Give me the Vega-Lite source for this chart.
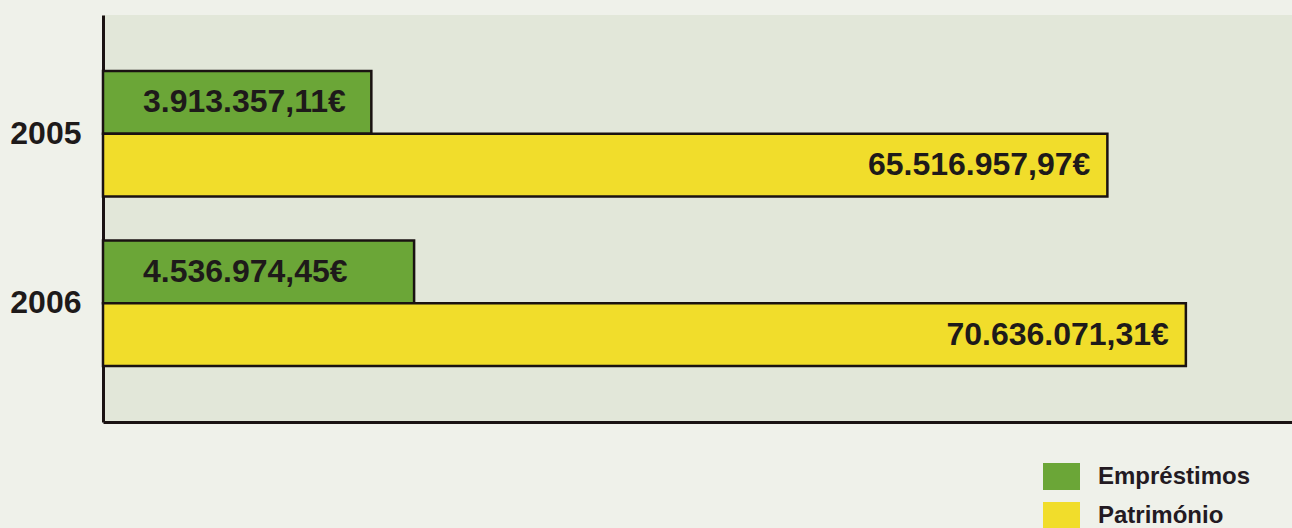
{
  "$schema": "https://vega.github.io/schema/vega-lite/v6.json",
  "width": 1189,
  "height": 407,
  "autosize": {"type": "none"},
  "padding": {"left": 103, "top": 15, "right": 0, "bottom": 106},
  "background": "#eff1ea",
  "config": {
    "locale": {"number": {"decimal": ",", "thousands": ".", "grouping": [3], "currency": ["", "€"]}},
    "view": {"fill": "#e2e7d9", "stroke": null},
    "font": "Liberation Sans"
  },
  "data": {
    "values": [
      {"ano": "2005", "serie": "Empréstimos", "valor": 3913357.11},
      {"ano": "2005", "serie": "Património", "valor": 65516957.97},
      {"ano": "2006", "serie": "Empréstimos", "valor": 4536974.45},
      {"ano": "2006", "serie": "Património", "valor": 70636071.31}
    ]
  },
  "encoding": {
    "y": {
      "field": "ano", "type": "nominal", "title": null,
      "scale": {"paddingInner": 0.26, "paddingOuter": 0.33},
      "axis": {"ticks": false, "domainColor": "#1a1212", "domainWidth": 3, "labelFontSize": 32, "labelFontWeight": "bold", "labelColor": "#1e1a1a", "labelPadding": 22}
    },
    "yOffset": {"field": "serie", "type": "nominal", "scale": {"domain": ["Empréstimos", "Património"], "paddingInner": 0, "paddingOuter": 0}}
  },
  "layer": [
    {
      "transform": [{"filter": "datum.serie === 'Empréstimos'"}],
      "layer": [
        {
          "mark": {"type": "bar", "stroke": "#1a1212", "strokeWidth": 2.5},
          "encoding": {
            "x": {"field": "valor", "type": "quantitative", "scale": {"domain": [0, 17340000], "nice": false}, "axis": null},
            "color": {
              "field": "serie", "type": "nominal",
              "scale": {"domain": ["Empréstimos", "Património"], "range": ["#6ba637", "#f1dd2b"]},
              "legend": {
                "title": null, "orient": "none", "legendX": 940, "legendY": 443,
                "symbolType": "M-1,-0.73L1,-0.73L1,0.73L-1,0.73Z", "symbolSize": 1369, "symbolStrokeWidth": 0, "symbolOpacity": 1,
                "labelFontSize": 24, "labelFontWeight": "bold", "labelColor": "#231a22", "labelOffset": 18, "rowPadding": 6
              }
            }
          }
        },
        {
          "mark": {"type": "text", "align": "left", "baseline": "middle", "dx": 40, "fontSize": 32, "fontWeight": "bold", "color": "#1e1a1a"},
          "encoding": {
            "x": {"datum": 0, "type": "quantitative"},
            "text": {"field": "valor", "type": "quantitative", "format": "$,.2f"}
          }
        }
      ]
    },
    {
      "transform": [{"filter": "datum.serie === 'Património'"}],
      "layer": [
        {
          "mark": {"type": "bar", "stroke": "#1a1212", "strokeWidth": 2.5},
          "encoding": {
            "x": {"field": "valor", "type": "quantitative", "scale": {"domain": [0, 77560000], "nice": false},
              "axis": {"orient": "bottom", "labels": false, "ticks": false, "grid": false, "title": null, "domainColor": "#1a1212", "domainWidth": 3}},
            "color": {"field": "serie", "type": "nominal"}
          }
        },
        {
          "mark": {"type": "text", "align": "right", "baseline": "middle", "dx": -17, "fontSize": 32, "fontWeight": "bold", "color": "#1e1a1a"},
          "encoding": {
            "x": {"field": "valor", "type": "quantitative"},
            "text": {"field": "valor", "type": "quantitative", "format": "$,.2f"}
          }
        }
      ]
    }
  ],
  "resolve": {"scale": {"x": "independent"}}
}
